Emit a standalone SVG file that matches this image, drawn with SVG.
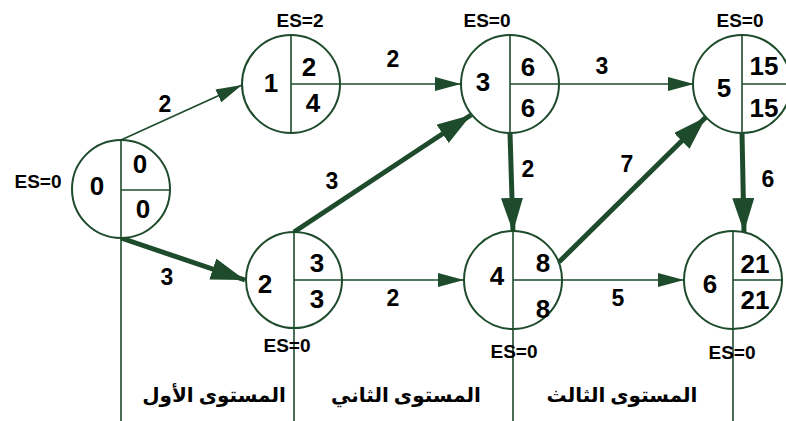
<svg xmlns="http://www.w3.org/2000/svg" width="786" height="421" viewBox="0 0 786 421">
  <style>
    .ring { fill: #ffffff; stroke: #1d4b2b; stroke-width: 2; }
    .div { stroke: #1d4b2b; stroke-width: 1.6; fill: none; }
    .thin { stroke: #1d4b2b; stroke-width: 1.6; fill: none; marker-end: url(#headThin); }
    .thick { stroke: #1d4b2b; stroke-width: 5; fill: none; marker-end: url(#headThick); }
    .num { font-family: "Liberation Sans", Arial, sans-serif; font-weight: bold; font-size: 26px; fill: #000; text-anchor: middle; }
    .lab { font-family: "Liberation Sans", Arial, sans-serif; font-weight: bold; font-size: 23px; fill: #000; text-anchor: middle; }
    .es { font-family: "Liberation Sans", Arial, sans-serif; font-weight: bold; font-size: 19px; fill: #000; text-anchor: middle; }
    .lvl { font-family: "Liberation Serif", "DejaVu Sans", serif; font-weight: bold; font-size: 20px; fill: #000; text-anchor: middle; }
  </style>
  <defs>
    <marker id="headThin" markerUnits="userSpaceOnUse" markerWidth="28" markerHeight="16" refX="26" refY="7" orient="auto">
      <path d="M0,0 L26,7 L0,14 Z" fill="#1d4b2b"/>
    </marker>
    <marker id="headThick" markerUnits="userSpaceOnUse" markerWidth="36" markerHeight="24" refX="34" refY="11" orient="auto">
      <path d="M0,0 L34,11 L0,22 Z" fill="#1d4b2b"/>
    </marker>
  </defs>
  <rect width="786" height="421" fill="#ffffff"/>

  <!-- level separators -->
  <g id="levels">
    <line class="div" x1="121" y1="238" x2="121" y2="421"/>
    <line class="div" x1="294" y1="328" x2="294" y2="421"/>
    <line class="div" x1="513" y1="328" x2="513" y2="421"/>
    <line class="div" x1="733" y1="328" x2="733" y2="421"/>
    <text class="lvl" x="214" y="402">المستوى الأول</text>
    <text class="lvl" x="406" y="402">المستوى الثاني</text>
    <text class="lvl" x="622" y="402">المستوى الثالث</text>
  </g>

  <!-- activities -->
  <g id="connectors">
    <line class="thin" x1="121" y1="140" x2="242" y2="85"/>
    <line class="thick" x1="121" y1="238" x2="245" y2="280"/>
    <line class="thin" x1="340" y1="84" x2="461" y2="84"/>
    <line class="thick" x1="294" y1="232" x2="471" y2="115"/>
    <line class="thin" x1="342" y1="280" x2="464" y2="280"/>
    <line class="thick" x1="510" y1="133" x2="513" y2="232"/>
    <line class="thin" x1="559" y1="84" x2="694" y2="84"/>
    <line class="thick" x1="559" y1="262" x2="706" y2="117"/>
    <line class="thin" x1="562" y1="280" x2="684" y2="280"/>
    <line class="thick" x1="742" y1="133" x2="744" y2="232"/>
    <text class="lab" x="165" y="112">2</text>
    <text class="lab" x="167" y="285">3</text>
    <text class="lab" x="393" y="67">2</text>
    <text class="lab" x="332" y="189">3</text>
    <text class="lab" x="393" y="306">2</text>
    <text class="lab" x="528" y="177">2</text>
    <text class="lab" x="602" y="74">3</text>
    <text class="lab" x="627" y="172">7</text>
    <text class="lab" x="618" y="306">5</text>
    <text class="lab" x="768" y="187">6</text>
  </g>

  <g id="node0">
    <circle class="ring" cx="121" cy="189" r="49"/>
    <line class="div" x1="121" y1="140" x2="121" y2="238"/>
    <line class="div" x1="121" y1="190" x2="170" y2="190"/>
    <text class="num" x="97" y="195">0</text>
    <text class="num" x="140" y="173">0</text>
    <text class="num" x="143" y="218">0</text>
    <text class="es" x="38" y="188">ES=0</text>
  </g>

  <g id="node1">
    <circle class="ring" cx="291" cy="84" r="49"/>
    <line class="div" x1="291" y1="35" x2="291" y2="133"/>
    <line class="div" x1="291" y1="84" x2="340" y2="84"/>
    <text class="num" x="271" y="92">1</text>
    <text class="num" x="309" y="76">2</text>
    <text class="num" x="313" y="112">4</text>
    <text class="es" x="300" y="27">ES=2</text>
  </g>

  <g id="node3">
    <circle class="ring" cx="510" cy="84" r="49"/>
    <line class="div" x1="510" y1="35" x2="510" y2="133"/>
    <line class="div" x1="510" y1="84" x2="559" y2="84"/>
    <text class="num" x="483" y="91">3</text>
    <text class="num" x="528" y="76">6</text>
    <text class="num" x="528" y="117">6</text>
    <text class="es" x="487" y="27">ES=0</text>
  </g>

  <g id="node5">
    <circle class="ring" cx="742" cy="84" r="49"/>
    <line class="div" x1="742" y1="35" x2="742" y2="133"/>
    <line class="div" x1="742" y1="84" x2="786" y2="84"/>
    <text class="num" x="724" y="97">5</text>
    <text class="num" x="764" y="75">15</text>
    <text class="num" x="764" y="117">15</text>
    <text class="es" x="740" y="27">ES=0</text>
  </g>

  <g id="node2">
    <circle class="ring" cx="294" cy="280" r="48"/>
    <line class="div" x1="294" y1="232" x2="294" y2="328"/>
    <line class="div" x1="294" y1="280" x2="342" y2="280"/>
    <text class="num" x="265" y="293">2</text>
    <text class="num" x="317" y="272">3</text>
    <text class="num" x="317" y="308">3</text>
    <text class="es" x="287" y="352">ES=0</text>
  </g>

  <g id="node4">
    <circle class="ring" cx="513" cy="280" r="49"/>
    <line class="div" x1="513" y1="231" x2="513" y2="329"/>
    <line class="div" x1="513" y1="280" x2="562" y2="280"/>
    <text class="num" x="497" y="285">4</text>
    <text class="num" x="543" y="272">8</text>
    <text class="num" x="543" y="318">8</text>
    <text class="es" x="514" y="358">ES=0</text>
  </g>

  <g id="node6">
    <circle class="ring" cx="733" cy="280" r="49"/>
    <line class="div" x1="733" y1="231" x2="733" y2="329"/>
    <line class="div" x1="733" y1="280" x2="782" y2="280"/>
    <text class="num" x="710" y="293">6</text>
    <text class="num" x="755" y="273">21</text>
    <text class="num" x="755" y="309">21</text>
    <text class="es" x="732" y="359">ES=0</text>
  </g>
</svg>
